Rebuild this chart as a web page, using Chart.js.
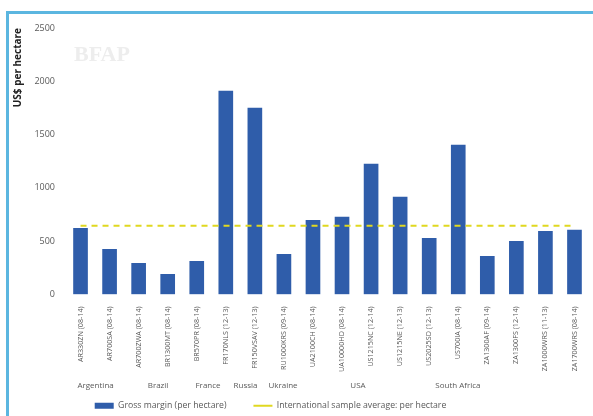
<!DOCTYPE html>
<html><head><meta charset="utf-8">
<script src="https://cdn.jsdelivr.net/npm/chart.js@4"></script>
<style>
html,body{margin:0;padding:0;background:#fff;width:593px;height:416px;overflow:hidden}
#frame{position:absolute;left:6px;top:11px;width:600px;height:420px;border-top:3px solid #5BB6E0;border-left:3px solid #5BB6E0;box-sizing:border-box}
#wrap{position:absolute;left:0;top:0;width:593px;height:416px}
</style></head>
<body>
<div id="frame"></div>
<div id="wrap"><canvas id="c" width="593" height="416"></canvas></div>
<script>
const categories = ["AR330ZN (08-14)","AR700SA (08-14)","AR700ZWA (08-14)","BR1300MT (08-14)","BR570PR (08-14)","FR170NLS (12-13)","FR150VSAV (12-13)","RU1000KRS (09-14)","UA2100CH (08-14)","UA10000HD (08-14)","US1215NC (12-14)","US1215NE (12-13)","US2025SD (12-13)","US700IA (08-14)","ZA1300AF (09-14)","ZA1300FS (12-14)","ZA1000WRS (11-13)","ZA1700WRS (08-14)"];
const grossMargin = [620,423,291,188,310,1908,1748,376,695,724,1222,912,526,1400,357,498,592,602];
const sampleAverage = [643,643,643,643,643,643,643,643,643,643,643,643,643,643,643,643,643,643];
const groupNames = ["Argentina","Brazil","France","Russia","Ukraine","USA","South Africa"];
const groupFirst = [0,3,5,7,8,10,14];
const groupLast = [2,4,6,7,9,13,17];
const yTicks = [0,500,1000,1500,2000,2500];

const grey = '#595959';
const groupPlugin = {
  id:'groups',
  afterLayout(chart){
    if (chart.legend){ chart.legend.left -= 30; chart.legend.right -= 30; }
  },
  beforeDraw(chart){
    const ctx = chart.ctx;
    ctx.save();
    ctx.font = 'bold 22px "Liberation Serif"';
    ctx.fillStyle = '#ededed';
    ctx.textAlign='center';ctx.textBaseline='middle';
    ctx.fillText('BFAP', 102, 55);
    ctx.restore();
  },
  afterDraw(chart){
    const x = chart.scales.x, ctx = chart.ctx;
    ctx.save();
    ctx.font = '8px "Open Sans"';
    ctx.fillStyle = grey;
    ctx.textAlign='center';ctx.textBaseline='middle';
    const c0 = (x.getPixelForValue(groupFirst[0]) + x.getPixelForValue(groupLast[0]))/2;
    groupNames.forEach((g,i)=>{
      const c = (x.getPixelForValue(groupFirst[i]) + x.getPixelForValue(groupLast[i]))/2;
      const px = c0 - 14 + (c - c0)*0.86;
      ctx.fillText(g, px, x.bottom + 11);
    });
    ctx.restore();
  }
};

new Chart(document.getElementById('c'), {
  data:{
    labels:categories,
    datasets:[
      {type:'bar',label:'Gross margin (per hectare)',data:grossMargin,backgroundColor:'#2F5DAA',borderColor:'#2F5DAA',borderWidth:0,barThickness:14,pointStyle:'rect',order:2},
      {type:'line',label:'International sample average: per hectare',data:sampleAverage,borderColor:'#E0D820',backgroundColor:'#E0D820',borderWidth:2,borderDash:[6,5],pointRadius:0,pointStyle:'line',order:1}
    ]
  },
  options:{
    responsive:false,animation:false,
    layout:{padding:{left:12,right:4,top:28,bottom:-4}},
    plugins:{
      legend:{position:'bottom',labels:{font:{size:8.7,family:'"Open Sans"'},color:grey,usePointStyle:true,pointStyleWidth:19,boxHeight:6,padding:27,sort:(a,b)=>a.datasetIndex-b.datasetIndex}},
      tooltip:{enabled:false}
    },
    scales:{
      x:{grid:{display:false},border:{display:false},
        ticks:{minRotation:90,maxRotation:90,autoSkip:false,font:{size:7.2,family:'"Open Sans"'},color:grey,padding:4},
        afterFit(s){s.height=80;}
      },
      y:{min:0,max:2500,grid:{display:false},border:{display:false},
        afterBuildTicks(s){s.ticks=yTicks.map(v=>({value:v}));},
        ticks:{font:{size:9,family:'"Open Sans"'},color:grey,padding:3,callback:v=>String(v)},
        title:{display:true,text:'US$ per hectare',align:'end',font:{size:10,weight:'bold',family:'"Open Sans"'},color:'#222',padding:{top:0,bottom:4}},
        afterFit(s){s.width=54;}
      }
    }
  },
  plugins:[groupPlugin]
});
</script>
</body></html>
